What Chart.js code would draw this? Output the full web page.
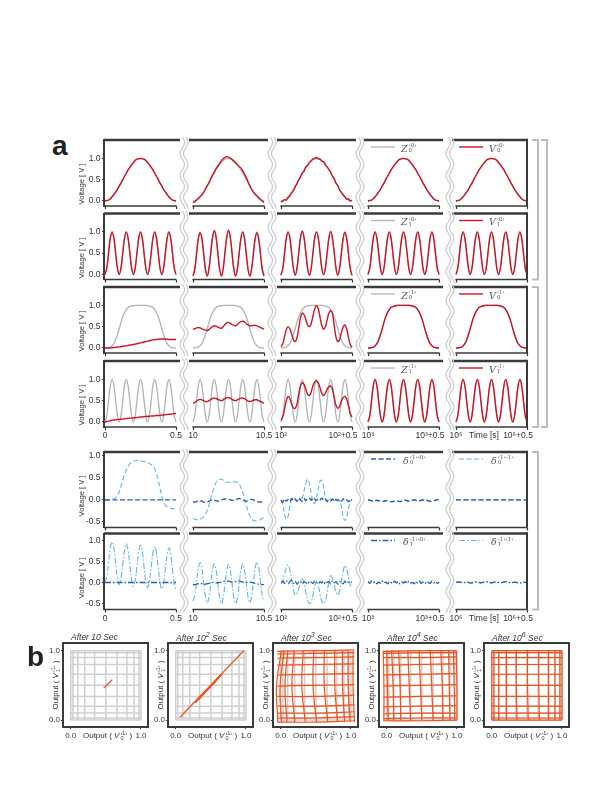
<!DOCTYPE html>
<html>
<head>
<meta charset="utf-8">
<script src="https://cdn.jsdelivr.net/npm/chart.js@4.4.1/dist/chart.umd.min.js"></script>
<style>
body { margin: 0; background: #fff; font-family: 'Liberation Sans', Arial, sans-serif; }
#fig { position: relative; width: 612px; height: 792px; overflow: hidden; }
canvas { position: absolute; }
#deco { position: absolute; left: 0; top: 0; }
.t { position: absolute; white-space: nowrap; color: #333; font-size: 8.5px; line-height: 1; }
.c { transform: translate(-50%, -50%); }
.rot { transform: translate(-50%, -50%) rotate(-90deg); }
.ss { display: inline-block; vertical-align: middle; line-height: 0.9; font-size: 5.5px; font-style: normal; margin-left: 1px; }
.ss span { display: block; }
.leg { position: absolute; display: flex; align-items: center; font-family: 'DejaVu Serif', 'Liberation Serif', serif; font-style: italic; font-size: 9.5px; color: #555; transform: translateY(-50%); }
.letter { position: absolute; font-weight: bold; font-size: 28px; line-height: 1; color: #222; }
</style>
</head>
<body>
<div id="fig">
  <svg id="deco" width="612" height="792"></svg>
</div>
<script>
// sample times inside each 0.5 s window
const times = [0, 0.0125, 0.025, 0.0375, 0.05, 0.0625, 0.075, 0.0875, 0.1, 0.1125, 0.125, 0.1375, 0.15, 0.1625, 0.175, 0.1875, 0.2, 0.2125, 0.225, 0.2375, 0.25, 0.2625, 0.275, 0.2875, 0.3, 0.3125, 0.325, 0.3375, 0.35, 0.3625, 0.375, 0.3875, 0.4, 0.4125, 0.425, 0.4375, 0.45, 0.4625, 0.475, 0.4875, 0.5];

// targets
const z0_0 = [0,0.01,0.02,0.05,0.1,0.15,0.21,0.27,0.35,0.42,0.5,0.58,0.65,0.73,0.79,0.85,0.9,0.95,0.98,0.99,1,0.99,0.98,0.95,0.9,0.85,0.79,0.73,0.65,0.58,0.5,0.42,0.35,0.27,0.21,0.15,0.1,0.05,0.02,0.01,0];
const z1_0 = [0,0.15,0.5,0.85,1,0.85,0.5,0.15,0,0.15,0.5,0.85,1,0.85,0.5,0.15,0,0.15,0.5,0.85,1,0.85,0.5,0.15,0,0.15,0.5,0.85,1,0.85,0.5,0.15,0,0.15,0.5,0.85,1,0.85,0.5,0.15,0];
const z0_1 = [0,0,0.01,0.02,0.05,0.1,0.19,0.31,0.45,0.6,0.73,0.83,0.9,0.95,0.97,0.985,0.995,1,1,1,1,1,1,1,0.995,0.985,0.97,0.95,0.9,0.83,0.73,0.6,0.45,0.31,0.19,0.1,0.05,0.02,0.01,0,0];
const z1_1 = [0,0.15,0.5,0.85,1,0.85,0.5,0.15,0,0.15,0.5,0.85,1,0.85,0.5,0.15,0,0.15,0.5,0.85,1,0.85,0.5,0.15,0,0.15,0.5,0.85,1,0.85,0.5,0.15,0,0.15,0.5,0.85,1,0.85,0.5,0.15,0];

// outputs after 10 s and 100 s (first memory)
const v0_0_10 = [-0.04,-0.02,0.02,0.06,0.1,0.14,0.2,0.28,0.36,0.43,0.52,0.61,0.68,0.76,0.82,0.88,0.94,0.99,1.02,1.04,1.03,1.0,0.97,0.93,0.89,0.85,0.81,0.77,0.71,0.63,0.55,0.45,0.36,0.28,0.21,0.16,0.12,0.08,0.04,0.0,-0.04];
const v0_0_100 = [-0.03,0.0,0.03,0.02,0.08,0.12,0.19,0.24,0.33,0.4,0.5,0.56,0.66,0.7,0.8,0.83,0.9,0.94,0.98,1.0,1.02,0.99,0.98,0.93,0.92,0.85,0.8,0.74,0.68,0.58,0.52,0.42,0.36,0.26,0.2,0.14,0.1,0.04,0.05,0.0,0.02];
const v1_0_10 = [-0.04,0.12,0.48,0.83,0.98,0.84,0.49,0.12,-0.04,0.13,0.5,0.87,1.03,0.88,0.5,0.12,-0.04,0.13,0.51,0.88,1.04,0.88,0.5,0.12,-0.04,0.12,0.49,0.85,1.0,0.85,0.48,0.12,-0.04,0.12,0.48,0.83,0.98,0.83,0.48,0.12,-0.04];
const v1_0_100 = [-0.02,0.14,0.5,0.85,1.0,0.86,0.5,0.14,-0.02,0.15,0.51,0.87,1.02,0.86,0.5,0.14,-0.02,0.14,0.5,0.86,1.0,0.86,0.5,0.14,-0.01,0.15,0.51,0.86,1.01,0.85,0.5,0.14,-0.02,0.14,0.49,0.84,0.99,0.84,0.49,0.14,-0.02];

// outputs of second memory at 0 s, 10 s, 100 s
const v0_1_0 = [0,0,0,0,0.005,0.01,0.015,0.02,0.025,0.03,0.04,0.045,0.05,0.06,0.07,0.075,0.08,0.09,0.1,0.11,0.12,0.13,0.14,0.15,0.16,0.17,0.18,0.19,0.195,0.2,0.205,0.21,0.21,0.21,0.21,0.205,0.2,0.2,0.2,0.2,0.2];
const v0_1_10 = [0.44,0.45,0.47,0.48,0.47,0.45,0.43,0.42,0.41,0.43,0.47,0.5,0.52,0.51,0.49,0.47,0.46,0.5,0.55,0.59,0.6,0.58,0.55,0.53,0.52,0.55,0.59,0.62,0.63,0.61,0.57,0.54,0.52,0.52,0.53,0.53,0.52,0.5,0.48,0.46,0.44];
const v0_1_100 = [0.03,0.1,0.27,0.43,0.5,0.45,0.33,0.2,0.15,0.24,0.47,0.71,0.82,0.78,0.66,0.54,0.5,0.57,0.75,0.92,0.99,0.92,0.72,0.52,0.44,0.5,0.66,0.82,0.88,0.8,0.52,0.25,0.15,0.2,0.35,0.49,0.54,0.45,0.25,0.08,0.02];
const v1_1_0 = [0,0.01,0.02,0.03,0.04,0.045,0.05,0.055,0.06,0.065,0.07,0.075,0.08,0.085,0.09,0.09,0.095,0.1,0.105,0.11,0.115,0.12,0.125,0.13,0.13,0.135,0.14,0.14,0.145,0.15,0.15,0.155,0.16,0.165,0.17,0.175,0.18,0.185,0.19,0.195,0.2];
const v1_1_10 = [0.44,0.46,0.49,0.52,0.53,0.52,0.5,0.48,0.48,0.5,0.53,0.55,0.56,0.55,0.53,0.51,0.5,0.52,0.55,0.57,0.57,0.56,0.53,0.51,0.5,0.52,0.54,0.56,0.56,0.55,0.52,0.49,0.48,0.49,0.51,0.52,0.52,0.5,0.48,0.46,0.44];
const v1_1_100 = [0.04,0.12,0.3,0.5,0.6,0.55,0.42,0.33,0.32,0.42,0.66,0.85,0.92,0.88,0.76,0.65,0.62,0.7,0.85,0.94,0.96,0.92,0.8,0.67,0.62,0.67,0.77,0.83,0.84,0.76,0.57,0.39,0.32,0.37,0.48,0.57,0.6,0.54,0.38,0.2,0.12];

// differences (delta)
const zeros41 = [0,0,0,0,0,0,0,0,0,0,0,0,0,0,0,0,0,0,0,0,0,0,0,0,0,0,0,0,0,0,0,0,0,0,0,0,0,0,0,0,0];
const d0a_10 = [-0.05,-0.05,-0.04,-0.02,-0.02,-0.03,-0.05,-0.06,-0.05,-0.03,-0.01,0.0,-0.01,-0.02,-0.03,-0.02,0.0,0.01,0.02,0.02,0.01,0.0,-0.01,-0.01,0.0,0.02,0.03,0.02,0.0,-0.02,-0.03,-0.02,0.0,0.01,0.0,-0.02,-0.04,-0.05,-0.05,-0.04,-0.05];
const d0a_100 = [0.0,-0.05,0.02,-0.03,0.01,-0.04,0.03,-0.02,0.02,-0.03,0.04,0.0,-0.03,0.03,-0.02,0.03,0.04,-0.01,0.05,0.02,-0.01,0.03,0.0,0.04,-0.01,0.02,-0.03,0.01,-0.02,0.02,-0.04,0.01,-0.02,0.01,-0.03,0.02,-0.02,0.0,-0.04,0.02,0.0];
const d0a_1000 = [0.0,-0.01,-0.02,-0.03,-0.02,-0.01,-0.02,-0.03,-0.04,-0.03,-0.02,-0.02,-0.03,-0.04,-0.04,-0.03,-0.02,-0.03,-0.04,-0.03,-0.02,-0.01,-0.02,-0.03,-0.02,-0.01,0.0,-0.01,-0.02,-0.02,-0.01,0.0,0.0,-0.01,-0.02,-0.03,-0.03,-0.02,-0.01,0.0,0.01];
const d0b_0 = [0,0,0,0.01,0.01,0.02,0.05,0.1,0.18,0.3,0.45,0.58,0.68,0.76,0.82,0.86,0.88,0.89,0.9,0.9,0.89,0.88,0.87,0.86,0.85,0.83,0.8,0.76,0.7,0.6,0.45,0.26,0.08,-0.05,-0.12,-0.16,-0.18,-0.19,-0.2,-0.2,-0.2];
const d0b_10 = [-0.42,-0.44,-0.45,-0.45,-0.44,-0.42,-0.38,-0.32,-0.24,-0.12,0.02,0.17,0.3,0.4,0.45,0.47,0.47,0.45,0.42,0.4,0.4,0.4,0.4,0.41,0.41,0.4,0.36,0.29,0.18,0.04,-0.11,-0.25,-0.36,-0.43,-0.47,-0.48,-0.48,-0.47,-0.45,-0.42,-0.39];
const d0b_100 = [0,-0.1,-0.32,-0.45,-0.38,-0.15,0.0,0.02,0.0,-0.02,0.0,0.0,0.05,0.2,0.38,0.47,0.38,0.15,-0.05,-0.08,0.05,0.25,0.42,0.45,0.3,0.05,-0.05,0.0,0.02,0.0,-0.02,0.0,0.02,-0.02,-0.15,-0.38,-0.47,-0.4,-0.2,-0.05,0.0];
const d1a_10 = [-0.05,-0.05,-0.04,-0.03,-0.02,-0.03,-0.04,-0.04,-0.03,-0.02,-0.01,0.0,0.0,-0.01,-0.01,0.0,0.01,0.02,0.03,0.03,0.03,0.02,0.01,0.01,0.02,0.03,0.03,0.02,0.01,0.0,0.0,0.01,0.01,0.0,-0.01,-0.02,-0.03,-0.04,-0.04,-0.05,-0.05];
const d1a_100 = [0.0,0.03,-0.02,0.04,-0.03,0.02,0.05,-0.02,0.03,-0.04,0.01,0.03,-0.03,0.02,0.0,-0.04,0.03,0.01,-0.02,0.04,0.0,-0.03,0.02,-0.01,0.03,-0.04,0.01,0.02,-0.03,0.03,-0.01,0.02,-0.04,0.02,0.0,-0.03,0.03,-0.02,0.01,0.02,0.0];
const d1a_1000 = [0.02,-0.02,0.03,-0.01,0.02,-0.03,0.01,-0.02,0.03,-0.01,0.01,-0.03,0.02,0.0,-0.02,0.03,-0.01,0.02,-0.03,0.01,-0.01,0.02,-0.02,0.03,-0.01,0.0,-0.03,0.02,-0.01,0.03,-0.02,0.01,-0.03,0.02,0.0,-0.02,0.03,-0.01,0.02,-0.02,0.01];
const d1a_1e6 = [0.0,0.01,0.01,0.0,-0.01,0.0,0.01,0.0,-0.01,-0.01,0.0,0.01,0.01,0.0,-0.01,0.0,0.01,0.02,0.01,0.0,-0.01,0.0,0.01,0.01,0.0,-0.01,0.0,0.01,0.02,0.01,0.0,-0.01,0.0,0.01,0.0,-0.01,-0.01,0.0,0.01,0.0,-0.01];
const d1b_0 = [0,0.14,0.48,0.82,0.96,0.81,0.45,0.1,-0.05,0.1,0.43,0.77,0.92,0.76,0.41,0.06,-0.09,0.05,0.39,0.74,0.88,0.73,0.37,0.02,-0.12,0.02,0.36,0.7,0.85,0.7,0.35,0.0,-0.15,-0.01,0.33,0.67,0.82,0.67,0.31,-0.04,-0.18];
const d1b_10 = [-0.44,-0.31,0.01,0.33,0.47,0.33,0.0,-0.33,-0.48,-0.35,-0.03,0.3,0.44,0.3,-0.03,-0.36,-0.5,-0.37,-0.05,0.28,0.43,0.29,-0.03,-0.36,-0.5,-0.37,-0.04,0.29,0.44,0.3,-0.02,-0.34,-0.48,-0.34,-0.01,0.33,0.48,0.35,0.02,-0.31,-0.44];
const d1b_100 = [-0.04,0.03,0.2,0.35,0.42,0.3,0.08,-0.16,-0.3,-0.26,-0.14,0.0,0.08,-0.03,-0.24,-0.42,-0.5,-0.46,-0.3,-0.08,0.04,-0.06,-0.28,-0.44,-0.5,-0.44,-0.24,0.02,0.16,0.09,-0.07,-0.22,-0.3,-0.2,0.02,0.26,0.4,0.31,0.12,-0.05,-0.12];

const xTickText = [['0', '0.5'], ['10', '10.5'], ['10²', '10²+0.5'], ['10³', '10³+0.5'], ['10⁶', '10⁶+0.5']];

// panel b: target grid and output lines ([start, mid, end] positions)
const gridPos = [0, 0.03, 0.1, 0.2, 0.34, 0.5, 0.66, 0.8, 0.9, 0.97, 1];
const seg10 = [[0.47, 0.46, 0.59, 0.58]];
const seg100 = [[0.06, 0.04, 0.97, 1.0], [0.28, 0.25, 0.66, 0.66], [0.33, 0.3, 0.62, 0.63], [0.36, 0.35, 0.58, 0.57]];
const vert1e3 = [[-0.04,-0.06,0.01],[0.01,-0.01,0.05],[0.09,0.06,0.1],[0.2,0.16,0.19],[0.35,0.3,0.32],[0.51,0.46,0.47],[0.67,0.62,0.62],[0.81,0.77,0.77],[0.91,0.88,0.88],[0.99,0.96,0.96],[1.05,1.03,1.03]];
const horz1e3 = [[-0.03,-0.03,-0.01],[0.03,0.03,0.05],[0.1,0.1,0.12],[0.2,0.2,0.22],[0.34,0.34,0.36],[0.49,0.5,0.51],[0.65,0.66,0.67],[0.79,0.8,0.81],[0.89,0.9,0.91],[0.95,0.96,0.97],[0.99,1.0,1.01]];
const vert1e4 = [[-0.04,-0.04,-0.05],[0.02,0.01,0.0],[0.1,0.09,0.07],[0.2,0.19,0.17],[0.34,0.32,0.3],[0.5,0.48,0.46],[0.66,0.64,0.62],[0.8,0.79,0.77],[0.9,0.89,0.88],[0.97,0.96,0.95],[1.0,1.0,0.99]];
const horz1e4 = [[-0.01,-0.01,0.0],[0.02,0.03,0.03],[0.09,0.1,0.1],[0.19,0.2,0.21],[0.33,0.34,0.35],[0.49,0.5,0.51],[0.65,0.66,0.67],[0.79,0.8,0.81],[0.9,0.9,0.91],[0.96,0.97,0.97],[0.99,1.0,1.0]];
const vert1e6 = [[0,0,0],[0.03,0.03,0.03],[0.1,0.1,0.1],[0.21,0.21,0.21],[0.36,0.35,0.35],[0.52,0.51,0.51],[0.68,0.67,0.67],[0.81,0.81,0.81],[0.9,0.9,0.9],[0.97,0.97,0.97],[1,1,1]];
const horz1e6 = [[0,0,0],[0.03,0.03,0.03],[0.1,0.1,0.1],[0.2,0.2,0.2],[0.34,0.34,0.34],[0.5,0.5,0.5],[0.66,0.66,0.66],[0.8,0.8,0.8],[0.9,0.9,0.9],[0.97,0.97,0.97],[1,1,1]];
const bTitles = ['After 10 Sec', 'After 10<sup>2</sup> Sec', 'After 10<sup>3</sup> Sec', 'After 10<sup>4</sup> Sec', 'After 10<sup>6</sup> Sec'];

// what goes in every row of panel a: [style, one value array per column]
const panelA = [
  [['gray', [z0_0, z0_0, z0_0, z0_0, z0_0]], ['red', [z0_0, v0_0_10, v0_0_100, z0_0, z0_0]]],
  [['gray', [z1_0, z1_0, z1_0, z1_0, z1_0]], ['red', [z1_0, v1_0_10, v1_0_100, z1_0, z1_0]]],
  [['gray', [z0_1, z0_1, z0_1, z0_1, z0_1]], ['red', [v0_1_0, v0_1_10, v0_1_100, z0_1, z0_1]]],
  [['gray', [z1_1, z1_1, z1_1, z1_1, z1_1]], ['red', [v1_1_0, v1_1_10, v1_1_100, z1_1, z1_1]]],
  [['lightDash', [d0b_0, d0b_10, d0b_100, d0a_1000, zeros41]], ['darkDash', [zeros41, d0a_10, d0a_100, d0a_1000, zeros41]]],
  [['lightDot', [d1b_0, d1b_10, d1b_100, d1a_1000, d1a_1e6]], ['darkDot', [zeros41, d1a_10, d1a_100, d1a_1000, d1a_1e6]]]
];

const legends = [
  [['gray', 'Z', '0', '‹0›'], ['red', 'V', '0', '‹0›']],
  [['gray', 'Z', '1', '‹0›'], ['red', 'V', '1', '‹0›']],
  [['gray', 'Z', '0', '‹1›'], ['red', 'V', '0', '‹1›']],
  [['gray', 'Z', '1', '‹1›'], ['red', 'V', '1', '‹1›']],
  [['darkDash', 'δ', '0', '‹1›‹0›'], ['lightDash', 'δ', '0', '‹1›‹1›']],
  [['darkDot', 'δ', '1', '‹1›‹0›'], ['lightDot', 'δ', '1', '‹1›‹1›']]
];

const styles = {
  gray: { borderColor: '#b3b3b3', borderWidth: 1.3 },
  red: { borderColor: '#cc1424', borderWidth: 1.4 },
  lightDash: { borderColor: '#5fb6e8', borderWidth: 1.1, borderDash: [5, 2.5] },
  darkDash: { borderColor: '#2d5fab', borderWidth: 1.4, borderDash: [5, 2.5] },
  lightDot: { borderColor: '#5fb6e8', borderWidth: 1.1, borderDash: [6, 2, 1.5, 2] },
  darkDot: { borderColor: '#2d5fab', borderWidth: 1.3, borderDash: [6, 2, 1.5, 2] }
};

Chart.defaults.font.family = "'Liberation Sans', Arial, sans-serif";
Chart.defaults.font.size = 8.5;
Chart.defaults.color = '#333';

const fig = document.getElementById('fig');
const deco = document.getElementById('deco');

// frame lines: top rule, bottom axis line, optional right edge, or a full box
const framePlugin = {
  id: 'frame',
  afterDraw(chart, args, o) {
    const { ctx, chartArea: a } = chart;
    const line = (x1, y1, x2, y2) => { ctx.beginPath(); ctx.moveTo(x1, y1); ctx.lineTo(x2, y2); ctx.stroke(); };
    ctx.save();
    ctx.strokeStyle = '#3a3a3a';
    if (o.box) {
      ctx.lineWidth = 2;
      ctx.strokeRect(a.left, a.top, a.right - a.left, a.bottom - a.top);
    } else {
      ctx.lineWidth = 2.5;
      line(a.left, a.top, a.right, a.top);
      ctx.lineWidth = 1.5;
      const x = chart.scales.x;
      const x0 = o.first ? a.left : x.getPixelForValue(0) - 0.6;
      line(x0, a.bottom, x.getPixelForValue(0.5) + 0.6, a.bottom);
      if (o.right) { ctx.lineWidth = 2; line(a.right, a.top - 1.2, a.right, a.bottom); }
    }
    ctx.restore();
  }
};

function addCanvas(left, top, w, h) {
  const c = document.createElement('canvas');
  c.width = w; c.height = h;
  c.style.left = left + 'px'; c.style.top = top + 'px';
  c.style.width = w + 'px'; c.style.height = h + 'px';
  fig.appendChild(c);
  return c;
}

function addText(html, x, y, cls, css) {
  const d = document.createElement('div');
  d.className = 't ' + (cls || '');
  d.innerHTML = html;
  d.style.left = x + 'px'; d.style.top = y + 'px';
  if (css) d.style.cssText += css;
  fig.appendChild(d);
  return d;
}

const ss = (sub, sup) => `<span class="ss"><span>${sup}</span><span>${sub}</span></span>`;

// builds a canvas whose chart area lands on the given box
function boxCanvas(aL, aT, aR, aB, yW, padL, padR, padT, xH) {
  const left = Math.floor(aL - yW - padL);
  const top = Math.floor(aT - padT);
  const pl = aL - yW - left;
  const pt = aT - top;
  const w = Math.ceil(pl + yW + (aR - aL) + padR);
  const h = Math.ceil(pt + (aB - aT) + xH + 1);
  const padding = { left: pl, top: pt, right: w - pl - yW - (aR - aL), bottom: h - pt - (aB - aT) - xH };
  return { canvas: addCanvas(left, top, w, h), padding };
}

// ---------- panel a ----------
const colT0 = [105, 193, 281, 368, 456];
const pxPerSec = 142;
const rowTop = [140, 213.5, 287, 361, 452, 533.5];
const rowBot = [206, 279.5, 353, 427, 527.5, 609.5];
const rowY = [[-0.118, 1.43], [-0.118, 1.43], [-0.118, 1.43], [-0.118, 1.43], [-0.63, 1.09], [-0.64, 1.16]];

// later series in a row are drawn on top (lower order = drawn last in Chart.js)
function series(vals, st, k) {
  return Object.assign({
    data: times.map((t, i) => ({ x: t, y: vals[i] })),
    pointRadius: 0, tension: 0.4, fill: false, order: 10 - k
  }, styles[st]);
}

function panelAChart(r, c) {
  const t0 = colT0[c];
  const aL = c === 0 ? 104 : t0 - 4;
  const aR = c === 4 ? t0 + 71 : t0 + 75;
  const showX = r === 3 || r === 5;
  const xH = showX ? 16 : 5;
  const yW = c === 0 ? 30 : 0;
  const { canvas, padding } = boxCanvas(aL, rowTop[r], aR, rowBot[r], yW, c === 0 ? 2 : 10, 24, 3, xH);

  const plus = xTickText[c][1].includes('+');
  const labels = [xTickText[c][0], plus ? '' : xTickText[c][1]];
  const tickVals = [0, 0.5];
  if (showX && plus) { tickVals.push(0.5 - 9 / pxPerSec); labels.push(xTickText[c][1]); }
  if (showX && c === 4) { tickVals.push((484 - t0) / pxPerSec); labels.push('Time [s]'); }
  const yTicks = r < 4 ? [0, 0.5, 1] : [-0.5, 0, 0.5, 1];

  new Chart(canvas, {
    type: 'line',
    data: { datasets: panelA[r].map(([st, cols], k) => series(cols[c], st, k)) },
    options: {
      responsive: false, animation: false, devicePixelRatio: 1,
      layout: { padding },
      plugins: { legend: { display: false }, tooltip: { enabled: false }, frame: { first: c === 0, right: c === 4 } },
      scales: {
        x: {
          type: 'linear', min: (aL - t0) / pxPerSec, max: (aR - t0) / pxPerSec,
          afterBuildTicks: s => { s.ticks = tickVals.map(v => ({ value: v })); },
          afterFit: s => { s.height = xH; s.paddingLeft = 0; s.paddingRight = 0; },
          grid: { drawOnChartArea: false, tickLength: 3, tickWidth: 1.2,
                  tickColor: ctx => ctx.index < 2 ? '#333' : 'rgba(0,0,0,0)' },
          border: { display: false },
          ticks: { display: showX, padding: 1, autoSkip: false, minRotation: 0, maxRotation: 0,
                   callback: (v, i) => labels[i] }
        },
        y: {
          type: 'linear', min: rowY[r][0], max: rowY[r][1], display: c === 0,
          afterBuildTicks: s => { s.ticks = yTicks.map(v => ({ value: v })); },
          afterFit: s => { s.width = yW; s.paddingTop = 0; s.paddingBottom = 0; },
          grid: { drawOnChartArea: false, tickLength: 2, tickColor: '#333' },
          border: { display: true, color: '#3a3a3a', width: 2 },
          ticks: { padding: 1.5, callback: v => v.toFixed(1) }
        }
      }
    },
    plugins: [framePlugin]
  });
}

for (let r = 0; r < 6; r++) {
  for (let c = 0; c < 5; c++) panelAChart(r, c);
}

// ---------- panel b ----------
const bLeft = [63, 168, 273, 379, 484];
const bTop = 643, bW = 85, bH = 84;

function lineSet(points, color, width, tension, order) {
  return { data: points, borderColor: color, borderWidth: width, pointRadius: 0, tension, fill: false, showLine: true, order };
}

function panelBChart(i, orange) {
  const aL = bLeft[i];
  const { canvas, padding } = boxCanvas(aL, bTop, aL + bW, bTop + bH, 18, 4, 14, 2, 14);
  const gray = '#cfcfcf';
  const ds = [];
  gridPos.forEach(g => {
    ds.push(lineSet([{ x: g, y: 0 }, { x: g, y: 1 }], gray, 1.5, 0, 2));
    ds.push(lineSet([{ x: 0, y: g }, { x: 1, y: g }], gray, 1.5, 0, 2));
  });
  orange.forEach(o => ds.push(o));

  new Chart(canvas, {
    type: 'scatter',
    data: { datasets: ds },
    options: {
      responsive: false, animation: false, devicePixelRatio: 1,
      layout: { padding },
      plugins: { legend: { display: false }, tooltip: { enabled: false }, frame: { box: true } },
      scales: {
        x: {
          type: 'linear', min: -0.11, max: 1.1,
          afterBuildTicks: s => { s.ticks = [{ value: 0 }, { value: 1 }]; },
          afterFit: s => { s.height = 14; s.paddingLeft = 0; s.paddingRight = 0; },
          grid: { drawOnChartArea: false, tickLength: 2, tickColor: '#333' },
          border: { display: false },
          ticks: { padding: 1.5, font: { size: 8 }, maxRotation: 0, callback: v => v.toFixed(1) }
        },
        y: {
          type: 'linear', min: -0.1, max: 1.11,
          afterBuildTicks: s => { s.ticks = [{ value: 0 }, { value: 1 }]; },
          afterFit: s => { s.width = 18; s.paddingTop = 0; s.paddingBottom = 0; },
          grid: { drawOnChartArea: false, tickLength: 2, tickColor: '#333' },
          border: { display: false },
          ticks: { padding: 1, font: { size: 8 }, callback: v => v.toFixed(1) }
        }
      }
    },
    plugins: [framePlugin]
  });
}

const orangeCol = '#f0521c';
const segSets = segs => segs.map(s => lineSet([{ x: s[0], y: s[1] }, { x: s[2], y: s[3] }], orangeCol, 1.4, 0, 1));
function warpSets(vert, horz, ySpan, xSpan) {
  const ym = (ySpan[0] + ySpan[1]) / 2, xm = (xSpan[0] + xSpan[1]) / 2;
  const out = [];
  vert.forEach(v => out.push(lineSet([{ x: v[0], y: ySpan[0] }, { x: v[1], y: ym }, { x: v[2], y: ySpan[1] }], orangeCol, 1.2, 0.4, 1)));
  horz.forEach(h => out.push(lineSet([{ x: xSpan[0], y: h[0] }, { x: xm, y: h[1] }, { x: xSpan[1], y: h[2] }], orangeCol, 1.2, 0.4, 1)));
  return out;
}

panelBChart(0, segSets(seg10));
panelBChart(1, segSets(seg100));
panelBChart(2, warpSets(vert1e3, horz1e3, [-0.03, 1.0], [-0.05, 1.05]));
panelBChart(3, warpSets(vert1e4, horz1e4, [-0.01, 1.0], [-0.05, 0.99]));
panelBChart(4, warpSets(vert1e6, horz1e6, [0, 1], [0, 1]));

// ---------- text overlays ----------
const a = document.createElement('div');
a.className = 'letter'; a.textContent = 'a'; a.style.left = '52px'; a.style.top = '132px';
fig.appendChild(a);
const b = document.createElement('div');
b.className = 'letter'; b.textContent = 'b'; b.style.left = '27px'; b.style.top = '643px';
fig.appendChild(b);

for (let r = 0; r < 6; r++) {
  addText('Voltage [ V ]', 82, rowTop[r] + 44, 'rot', 'font-size:7.6px;');
  legends[r].forEach((lg, k) => {
    const c = 3 + k;
    const t0 = colT0[c];
    const st = styles[lg[0]];
    const y = rowTop[r] + 7;
    const sv = document.createElementNS('http://www.w3.org/2000/svg', 'line');
    sv.setAttribute('x1', t0 + 3); sv.setAttribute('x2', t0 + 27);
    sv.setAttribute('y1', y); sv.setAttribute('y2', y);
    sv.setAttribute('stroke', st.borderColor);
    sv.setAttribute('stroke-width', st.borderWidth);
    if (st.borderDash) sv.setAttribute('stroke-dasharray', st.borderDash.join(' '));
    deco.appendChild(sv);
    const d = document.createElement('div');
    d.className = 'leg';
    d.innerHTML = `<span>${lg[1]}</span>${ss(lg[2], lg[3])}`;
    d.style.left = (t0 + (lg[1] === 'δ' ? 35 : 33)) + 'px';
    d.style.top = (y + 0.5) + 'px';
    fig.appendChild(d);
  });
}

bLeft.forEach((aL, i) => {
  addText(bTitles[i], aL + 8, bTop - 6, '', 'font-style:italic;font-size:8.5px;transform:translateY(-50%);');
  addText(`Output ( <i>V</i>${ss('1', '‹1›')} )`, aL - 7, bTop + bH / 2, 'rot', 'font-size:8px;');
  addText(`Output ( <i>V</i>${ss('0', '‹1›')} )`, aL + bW / 2 + 2, bTop + bH + 9, 'c', 'font-size:8px;');
});

// ---------- wavy breaks and brackets ----------
function wavePath(cx, y0, y1) {
  let d = '';
  for (let y = y0; y <= y1; y += 1) {
    const x = cx + 2.2 * Math.sin((y - y0) / 22 * 2 * Math.PI);
    d += (y === y0 ? 'M' : 'L') + x.toFixed(2) + ',' + y;
  }
  return d;
}
const gapX = [184, 272, 360, 450];
function svgPath(d, color, width) {
  const p = document.createElementNS('http://www.w3.org/2000/svg', 'path');
  p.setAttribute('d', d);
  p.setAttribute('fill', 'none');
  p.setAttribute('stroke', color);
  p.setAttribute('stroke-width', width);
  deco.appendChild(p);
}
for (let r = 0; r < 6; r++) {
  gapX.forEach(gx => {
    svgPath(wavePath(gx - 1.7, Math.round(rowTop[r] - 3), Math.round(rowBot[r] + 3)), '#cccccc', 1.3);
    svgPath(wavePath(gx + 1.7, Math.round(rowTop[r] - 3), Math.round(rowBot[r] + 3)), '#cccccc', 1.3);
  });
}
svgPath('M532,140 H538 V279.5 H532', '#bdbdbd', 2);
svgPath('M532,287 H538 V427 H532', '#bdbdbd', 2);
svgPath('M541,140 H547 V427 H541', '#bdbdbd', 2);
svgPath('M532,452 H538 V609.5 H532', '#bdbdbd', 2);
fig.appendChild(deco);
</script>
</body>
</html>
